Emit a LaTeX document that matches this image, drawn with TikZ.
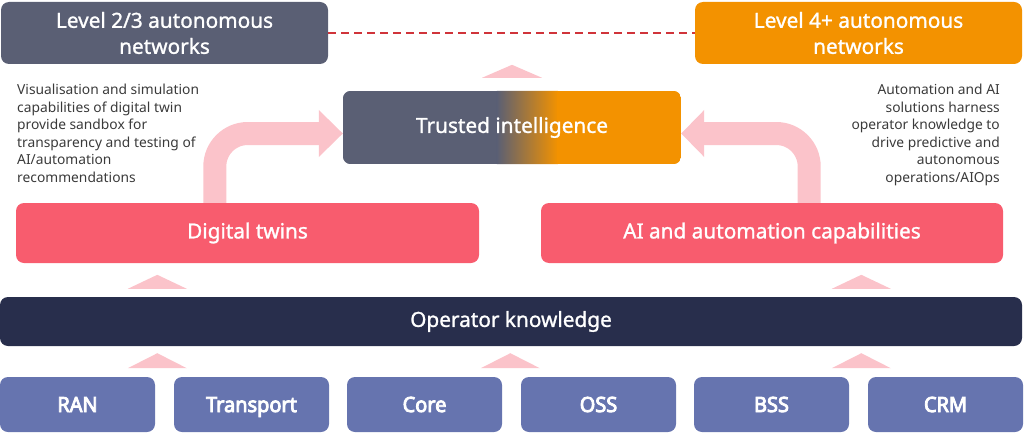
\documentclass[tikz,border=0pt]{standalone}
\usepackage{fontspec}
\setmainfont{Noto Sans}
\newfontfamily\medfont[FakeBold=1.2]{Noto Sans}
\newfontfamily\condfont[FakeStretch=0.95, FakeBold=4]{Noto Sans}
\usetikzlibrary{calc,backgrounds}
\definecolor{slate}{HTML}{5A5F74}
\definecolor{orng}{HTML}{F39200}
\definecolor{coral}{HTML}{F85C6E}
\definecolor{navy}{HTML}{282E4C}
\definecolor{lav}{HTML}{6674AF}
\definecolor{pinkarr}{HTML}{FBC3CA}
\definecolor{captxt}{HTML}{3A3A3A}
\definecolor{dashred}{HTML}{D0343A}
\tikzset{
  box/.style={rounded corners=8pt, inner sep=0pt, text=white, align=center},
  titlefont/.style={font=\medfont\fontsize{20.8}{26}\selectfont},
  srcbox/.style={box, fill=lav, minimum width=155pt, minimum height=55pt, text height=15pt, text depth=0pt, font=\condfont\fontsize{21}{24}\selectfont},
  caption/.style={inner sep=0pt, text=captxt, font=\fontsize{13.8}{17.5}\selectfont},
  band/.style={draw=pinkarr, line width=23pt, rounded corners=33pt},
  tri/.style={fill=pinkarr},
}
\begin{document}
\begin{tikzpicture}[x=1pt,y=-1pt]
\useasboundingbox (0,0) rectangle (1024,433);
% top boxes
\node[box, fill=slate, minimum width=327pt, minimum height=62pt, titlefont] (l23) at (164.5,33) {Level 2/3 autonomous\\networks};
\node[box, fill=orng, minimum width=327pt, minimum height=62pt, titlefont] (l4) at (858.5,33) {Level 4+ autonomous\\networks};
\draw[dashred, line width=1.8pt, dash pattern=on 8pt off 5pt] (l23.east) -- (l4.west);
% trusted intelligence
\node[box, minimum width=338pt, minimum height=73pt, titlefont] (ti) at (512,127.5) {Trusted intelligence};
\begin{scope}[on background layer]
  \clip[rounded corners=8pt] (ti.north west) rectangle (ti.south east);
  \fill[slate] (ti.north west) rectangle ($(ti.south west)+(155,0)$);
  \shade[left color=slate, right color=orng] ($(ti.north west)+(154,0)$) rectangle ($(ti.south west)+(215,0)$);
  \fill[orng] ($(ti.north west)+(214,0)$) rectangle (ti.south east);
\end{scope}
\fill[tri] ($(ti.north)+(-30,-13)$) -- ++(30,-13) -- ++(30,13) -- cycle;
% captions
\node[caption, anchor=north west, align=left] (capl) at (17,84) {Visualisation and simulation\\capabilities of digital twin\\provide sandbox for\\transparency and testing of\\AI/automation\\recommendations};
\node[caption, anchor=north east, align=right] (capr) at (1000,84) {Automation and AI\\solutions harness\\operator knowledge to\\drive predictive and\\autonomous\\operations/AIOps};
% middle boxes
\node[box, fill=coral, minimum width=463pt, minimum height=60pt, titlefont] (dt) at (247.5,233) {Digital twins};
\node[box, fill=coral, minimum width=462pt, minimum height=60pt, titlefont] (ai) at (772,233) {AI and automation capabilities};
% curved arrows
\coordinate (lh) at ($(ti.west)+(0,6)$);
\coordinate (rh) at ($(ti.east)+(0,6)$);
\draw[band] ($(dt.north west)+(199,0)$) |- ($(lh)+(-23,0)$);
\fill[pinkarr] (lh) -- ++(-24,-23.5) -- ++(0,47) -- cycle;
\draw[band] ($(ai.north east)+(-194,0)$) |- ($(rh)+(22,0)$);
\fill[pinkarr] (rh) -- ++(23,-23.5) -- ++(0,47) -- cycle;
% operator knowledge
\node[box, fill=navy, minimum width=1022pt, minimum height=49pt, titlefont] (ok) at (511,321.5) {Operator knowledge};
\fill[tri] ($(ok.north west)+(128,-8)$) -- ++(29.5,-14) -- ++(29.5,14) -- cycle;
\fill[tri] ($(ok.north west)+(832,-8)$) -- ++(29.5,-14) -- ++(29.5,14) -- cycle;
% sources
\node[srcbox] (ran) at (77.5,404.5) {RAN};
\node[srcbox] (tr) at (251.5,404.5) {Transport};
\node[srcbox] (core) at (424.5,404.5) {Core};
\node[srcbox] (oss) at (598.5,404.5) {OSS};
\node[srcbox] (bss) at (771.5,404.5) {BSS};
\node[srcbox] (crm) at (945.5,404.5) {CRM};
\fill[tri] ($(ok.south west)+(128,22)$) -- ++(29.5,-15) -- ++(29.5,15) -- cycle;
\fill[tri] ($(ok.south west)+(481,22)$) -- ++(29.5,-15) -- ++(29.5,15) -- cycle;
\fill[tri] ($(ok.south west)+(832,22)$) -- ++(29.5,-15) -- ++(29.5,15) -- cycle;
\end{tikzpicture}
\end{document}
